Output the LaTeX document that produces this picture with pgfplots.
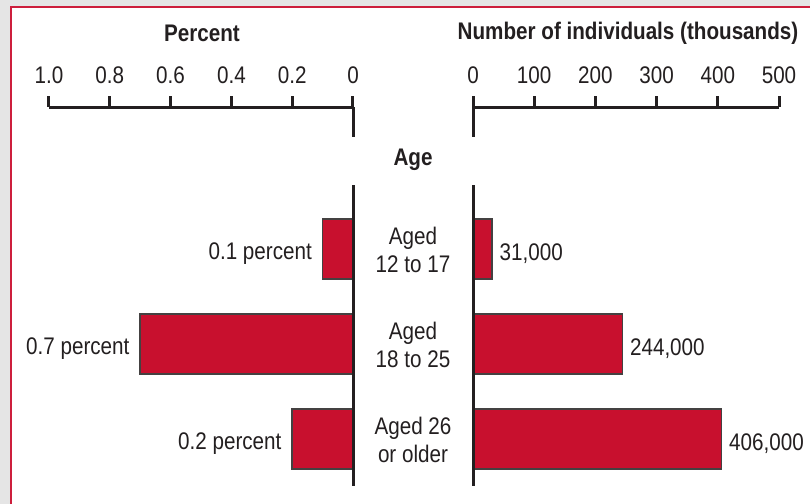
\documentclass[border=0pt]{standalone}
\usepackage{pgfplots}
\pgfplotsset{compat=1.18}
\usepackage{fontspec}
\setmainfont{Liberation Sans}[FakeStretch=0.86]
\definecolor{barred}{RGB}{200,16,46}
\definecolor{ink}{RGB}{35,31,32}
\definecolor{bggray}{RGB}{229,229,229}
\definecolor{framered}{RGB}{205,30,60}
\begin{document}
\begin{tikzpicture}
\begin{scope}[x=0.5pt,y=-0.5pt]
\fill[bggray] (0,0) rectangle (810,504);
\fill[white] (11,6) rectangle (810,504);
\draw[framered, line width=1pt] (11,504) -- (11,6.5) -- (810,6.5);
\end{scope}
\pgfplotsset{
 panel/.style={
  scale only axis, height=189.5pt, anchor=south west,
  axis x line=top, axis y line=none,
  x axis line style={-, line width=1.5pt, color=ink},
  tick align=outside, major tick length=5.5pt,
  xtick style={line width=1.5pt, color=ink},
  ymin=-486, ymax=-107, enlargelimits=false, clip=false,
  xbar, bar width=60, bar shift=0pt,
  ticklabel style={font=\fontsize{12}{14}\selectfont, text=ink, yshift=2.5pt},
  nodes near coords, point meta=explicit symbolic,
  every node near coord/.append style={font=\fontsize{12}{14}\selectfont, text=ink, yshift=-2.2pt},
 }
}
\begin{axis}[panel, at={(24.5pt,-243pt)}, width=152pt, x dir=reverse, xmin=0, xmax=1,
  xtick={0,0.2,0.4,0.6,0.8,1}, xticklabels={0,0.2,0.4,0.6,0.8,1.0},
  every node near coord/.append style={anchor=east, inner xsep=5pt}]
\addplot[fill=barred, draw=ink!85, line width=0.75pt] coordinates {
 (0.1,-249) [0.1 percent]
 (0.7,-344) [0.7 percent]
 (0.2,-439) [0.2 percent]
};
\end{axis}
\begin{axis}[panel, at={(236.5pt,-243pt)}, width=153pt, xmin=0, xmax=500,
  xtick={0,100,200,300,400,500}, xticklabels={0,100,200,300,400,500},
  every node near coord/.append style={anchor=west, inner xsep=3.5pt}]
\addplot[fill=barred, draw=ink!85, line width=0.75pt] coordinates {
 (31,-249) [{31,000}]
 (244,-344) [{244,000}]
 (406,-439) [{406,000}]
};
\end{axis}
\begin{scope}[x=0.5pt,y=-0.5pt]
\draw[ink, line width=1.5pt] (353,107) -- (353,137) (353,185) -- (353,486)
  (473,107) -- (473,137) (473,185) -- (473,486);
\node[font=\fontsize{12}{14}\selectfont\bfseries, text=ink] at (202,33) {Percent};
\node[font=\fontsize{12}{14}\selectfont\bfseries, text=ink] at (628,33) {Number of individuals (thousands)};
\node[font=\fontsize{12}{14}\selectfont\bfseries, text=ink] at (413,160) {Age};
\node[font=\fontsize{12}{14}\selectfont, text=ink, align=center] at (413,250) {Aged\\12 to 17};
\node[font=\fontsize{12}{14}\selectfont, text=ink, align=center] at (413,345) {Aged\\18 to 25};
\node[font=\fontsize{12}{14}\selectfont, text=ink, align=center] at (413,440) {Aged 26\\or older};
\pgfresetboundingbox
\path[use as bounding box] (0,0) rectangle (810,504);
\end{scope}
\end{tikzpicture}
\end{document}
